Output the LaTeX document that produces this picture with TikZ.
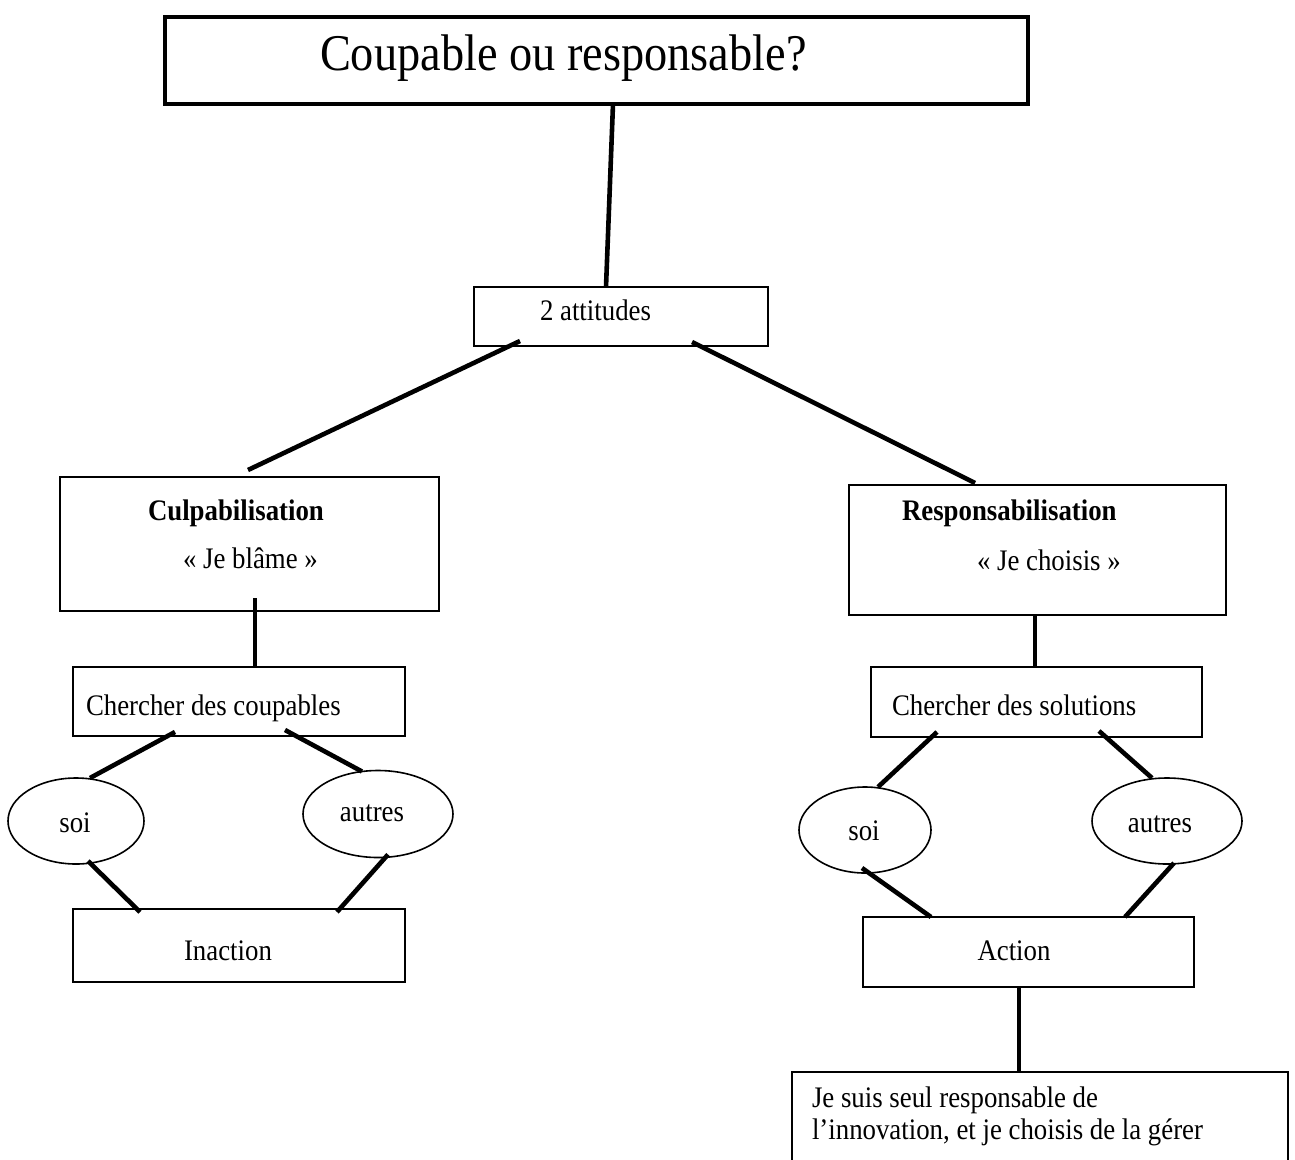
\documentclass[tikz,border=0pt]{standalone}
\usepackage{fontspec}
\setmainfont[FakeStretch=0.9]{Liberation Serif}
\usetikzlibrary{shapes.geometric,calc}
\begin{document}
\begin{tikzpicture}[x=1pt,y=-1pt,
  box/.style={draw,rectangle,line width=1.6pt,inner sep=0pt,outer sep=0pt,anchor=north west},
  titlebox/.style={box,line width=4.6pt},
  oval/.style={draw,ellipse,line width=1.6pt,inner sep=0pt,outer sep=0pt},
  txt/.style={inner sep=0pt,outer sep=0pt,font=\fontsize{29.8}{27}\selectfont},
  conn/.style={line width=4.6pt}]
\useasboundingbox (0,0) rectangle (1295,1159);
\clip (0,0) rectangle (1295,1159);
% boxes
\node[titlebox,minimum width=863pt,minimum height=87pt] (title) at (165,17) {};
\node[txt,anchor=base west,font=\fontsize{51.5}{51.5}\selectfont] (titletxt) at (320,70) {Coupable ou responsable?};
\node[box,minimum width=294pt,minimum height=59pt] (att) at (474,287) {};
\node[txt,anchor=base west] (atttxt) at (540,320) {2 attitudes};
\node[box,minimum width=379pt,minimum height=134pt] (culp) at (60,477) {};
\node[txt,anchor=base west,font=\fontsize{29.8}{27}\selectfont\bfseries] (culptxt) at (148,520) {Culpabilisation};
\node[txt,anchor=base west] (blame) at (183,568) {« Je blâme »};
\node[box,minimum width=377pt,minimum height=130pt] (resp) at (849,485) {};
\node[txt,anchor=base west,font=\fontsize{29.8}{27}\selectfont\bfseries] (resptxt) at (902,520) {Responsabilisation};
\node[txt,anchor=base west] (choisis) at (977,570) {« Je choisis »};
\node[box,minimum width=332pt,minimum height=69pt] (ch1) at (73,667) {};
\node[txt,anchor=base west] (ch1txt) at (86,715) {Chercher des coupables};
\node[box,minimum width=331pt,minimum height=70pt] (ch2) at (871,667) {};
\node[txt,anchor=base west] (ch2txt) at (892,715) {Chercher des solutions};
\node[oval,minimum width=136pt,minimum height=86pt] (soiL) at (76,821) {};
\node[txt,anchor=base] (soiLtxt) at (75,832) {soi};
\node[oval,minimum width=150pt,minimum height=87pt] (autL) at (378,814) {};
\node[txt,anchor=base] (autLtxt) at (372,821) {autres};
\node[oval,minimum width=132pt,minimum height=86pt] (soiR) at (865,830) {};
\node[txt,anchor=base] (soiRtxt) at (864,840) {soi};
\node[oval,minimum width=150pt,minimum height=86pt] (autR) at (1167,821) {};
\node[txt,anchor=base] (autRtxt) at (1160,832) {autres};
\node[box,minimum width=332pt,minimum height=73pt] (inact) at (73,909) {};
\node[txt,anchor=base] (inacttxt) at (228,960) {Inaction};
\node[box,minimum width=331pt,minimum height=70pt] (act) at (863,917) {};
\node[txt,anchor=base] (acttxt) at (1014,960) {Action};
\node[box,minimum width=496pt,minimum height=130pt] (fin) at (792,1072) {};
\node[txt,anchor=base west] (fintxt1) at (812,1107) {Je suis seul responsable de};
\node[txt,anchor=base west] (fintxt2) at (812,1139) {l’innovation, et je choisis de la gérer};
% connectors
\draw[conn] ($(title.south west)+(448,0)$) -- ($(att.north west)+(132,0)$);
\draw[conn] ($(att.south west)+(46,-5)$) -- ($(culp.north west)+(188,-7)$);
\draw[conn] ($(att.south west)+(218,-4)$) -- ($(resp.north west)+(126,-2)$);
\draw[conn] ($(culp.south west)+(195,-13)$) -- ($(ch1.north west)+(182,0)$);
\draw[conn] ($(resp.south west)+(186,0)$) -- ($(ch2.north west)+(164,0)$);
\draw[conn] ($(ch1.south west)+(102,-4)$) -- ($(soiL.north)+(14,0)$);
\draw[conn] ($(ch1.south west)+(212,-6)$) -- ($(autL.north)+(-16,1)$);
\draw[conn] ($(soiL.south)+(12,-3)$) -- ($(inact.north west)+(67,3)$);
\draw[conn] ($(autL.south)+(10,-3)$) -- ($(inact.north west)+(264,3)$);
\draw[conn] ($(ch2.south west)+(66,-5)$) -- ($(soiR.north)+(13,0)$);
\draw[conn] ($(ch2.south west)+(228,-6)$) -- ($(autR.north)+(-15,0)$);
\draw[conn] ($(soiR.south)+(-3,-5)$) -- ($(act.north west)+(68,0)$);
\draw[conn] ($(autR.south)+(7,-1)$) -- ($(act.north west)+(262,0)$);
\draw[conn] ($(act.south west)+(156,0)$) -- ($(fin.north west)+(227,0)$);
\end{tikzpicture}
\end{document}
